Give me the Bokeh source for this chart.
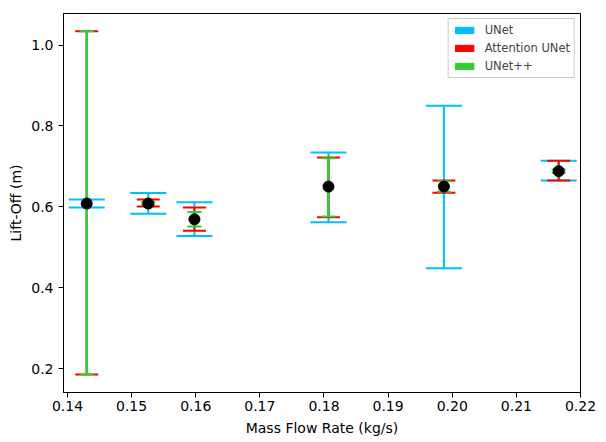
from bokeh.plotting import figure
from bokeh.models import ColumnDataSource, Whisker, TeeHead, Range1d, FixedTicker, Legend, LegendItem, NumeralTickFormatter
from bokeh.embed import file_html
from bokeh.resources import INLINE

mass_flow = [0.1430, 0.1526, 0.1598, 0.1807, 0.1987, 0.2166]
lift_off = [0.608, 0.608, 0.569, 0.650, 0.650, 0.688]

unet_upper = [0.618, 0.634, 0.611, 0.734, 0.850, 0.714]
unet_lower = [0.598, 0.583, 0.528, 0.562, 0.448, 0.665]

att_upper = [1.034, 0.618, 0.598, 0.722, 0.665, 0.714]
att_lower = [0.185, 0.601, 0.541, 0.574, 0.635, 0.665]

upp_upper = [1.034, 0.612, 0.587, 0.720, 0.663, 0.692]
upp_lower = [0.185, 0.605, 0.551, 0.576, 0.637, 0.684]

x_ticks = [0.14, 0.15, 0.16, 0.17, 0.18, 0.19, 0.20, 0.21, 0.22]
y_ticks = [0.2, 0.4, 0.6, 0.8, 1.0]

series = [
    ("UNet", unet_upper, unet_lower, "#00BFFF", 36, 2),
    ("Attention UNet", att_upper, att_lower, "#FF0000", 23, 2),
    ("UNet++", upp_upper, upp_lower, "#32CD32", 14, 2.6),
]

p = figure(width=600, height=440, output_backend="svg", toolbar_location=None,
           x_range=Range1d(0.13938, 0.2200), y_range=Range1d(0.1407, 1.078),
           min_border_left=63, min_border_right=20, min_border_top=13, min_border_bottom=48)

FONT = "DejaVu Sans"
p.outline_line_color = "black"
p.outline_line_width = 1
p.grid.visible = False
for ax in (p.xaxis[0], p.yaxis[0]):
    ax.axis_line_color = "black"
    ax.major_tick_line_color = "black"
    ax.minor_tick_line_color = None
    ax.major_tick_out = 5
    ax.major_tick_in = 0
    ax.major_label_text_font = FONT
    ax.major_label_text_font_size = "14px"
    ax.major_label_text_color = "black"
    ax.axis_label_text_font = FONT
    ax.axis_label_text_font_size = "14px"
    ax.axis_label_text_font_style = "normal"
    ax.axis_label_text_color = "black"

p.xaxis.ticker = FixedTicker(ticks=x_ticks)
p.xaxis.formatter = NumeralTickFormatter(format="0.00")
p.yaxis.ticker = FixedTicker(ticks=y_ticks)
p.yaxis.formatter = NumeralTickFormatter(format="0.0")
p.xaxis.axis_label = "Mass Flow Rate (kg/s)"
p.yaxis.axis_label = "Lift-Off (m)"
p.xaxis.major_label_standoff = 3
p.xaxis.axis_label_standoff = 6
p.yaxis.major_label_standoff = 5
p.yaxis.axis_label_standoff = 4

nan = float("nan")
items = []
for name, up, lo, col, cap, lw in series:
    src = ColumnDataSource(dict(x=mass_flow, upper=up, lower=lo))
    w = Whisker(source=src, base="x", upper="upper", lower="lower", dimension="height",
                line_color=col, line_width=lw,
                upper_head=TeeHead(size=cap, line_color=col, line_width=2),
                lower_head=TeeHead(size=cap, line_color=col, line_width=2))
    p.add_layout(w)
    dummy = p.quad(left=[nan], right=[nan], top=[nan], bottom=[nan], fill_color=col, line_color=col)
    items.append(LegendItem(label=name, renderers=[dummy]))

dots = p.scatter(mass_flow, lift_off, size=11, color="black")
dots.level = "overlay"

legend = Legend(items=items, location="top_right", label_text_font=FONT,
                label_text_font_size="11.5px", glyph_width=23, glyph_height=8,
                label_height=12, spacing=4, padding=4, margin=5,
                border_line_color="#cccccc", border_line_alpha=1.0,
                background_fill_alpha=0.9, label_standoff=9)
p.add_layout(legend)

open("out.html", "w").write(file_html(p, INLINE))
